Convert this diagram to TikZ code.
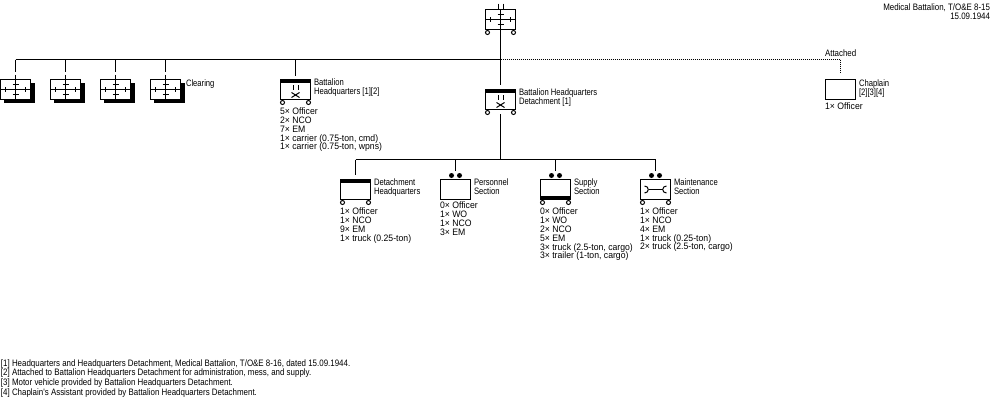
\documentclass[tikz,border=0pt]{standalone}
\usepackage{fontspec}
\setmainfont[FakeStretch=0.93]{Liberation Sans}
\newfontfamily\namefont[FakeStretch=0.82]{Liberation Sans}
\newfontfamily\notefont[FakeStretch=0.85]{Liberation Sans}
\usetikzlibrary{calc}
\tikzset{
  x=0.75pt, y=-0.75pt,
  px/.style={line width=0.75pt},
  unitbox/.style={draw, px, fill=white, minimum width=22.5pt, minimum height=15pt, inner sep=0pt, outer sep=0pt},
  lbl/.style={anchor=north west, inner sep=0pt, outer sep=0pt, align=left,
    font=\fontsize{7pt}{6.7pt}\selectfont, execute at begin node=\rule{0pt}{6pt}},
  namelbl/.style={lbl, font=\namefont\fontsize{7pt}{6.7pt}\selectfont},
  notelbl/.style={lbl, font=\notefont\fontsize{7pt}{7.25pt}\selectfont},
  conn/.style={px},
  dashconn/.style={px, dash pattern=on 9pt off 2.25pt},
  dotconn/.style={px, dash pattern=on 0.75pt off 0.75pt},
  sym/.style={px},
  wheel/.style={px, fill=white},
}
% two road wheels below a unit box
\newcommand{\wheels}[1]{%
  \draw[wheel] ($(#1.south west)+(2,3)$) circle (2);
  \draw[wheel] ($(#1.south east)+(-2,3)$) circle (2);}
% black band along the top or bottom edge of a unit box
\newcommand{\topband}[1]{\fill (#1.north west) rectangle ($(#1.north east)+(0,3.5)$);}
\newcommand{\lowband}[1]{\fill ($(#1.south west)+(0,-3.5)$) rectangle (#1.south east);}
% battalion size mark: two short bars
\newcommand{\batmark}[2]{%
  \draw[sym] ($(#1)+(-2.5,#2)$) -- ++(0,5);
  \draw[sym] ($(#1)+(2.5,#2)$) -- ++(0,5);}
% section size mark: two dots
\newcommand{\secmark}[1]{%
  \fill ($(#1.north)+(-4,-4)$) circle (2.5);
  \fill ($(#1.north)+(4,-4)$) circle (2.5);}
% medical crosses on a white field
\newcommand{\medcross}[1]{%
  \draw[sym] ($(#1)+(-15,0)$) -- ($(#1)+(15,0)$);
  \draw[sym] ($(#1)+(0,-10)$) -- ($(#1)+(0,10)$);
  \draw[sym] ($(#1)+(-10,-2.5)$) -- ++(0,5);
  \draw[sym] ($(#1)+(10,-2.5)$) -- ++(0,5);
  \draw[sym] ($(#1)+(-3,-5)$) -- ++(6,0);
  \draw[sym] ($(#1)+(-3,5)$) -- ++(6,0);}
% small crossed emblem below a box centre
\newcommand{\crossemblem}[1]{%
  \draw[sym] ($(#1)+(-4,3)$) .. controls ($(#1)+(-1,4)$) and ($(#1)+(1,7)$) .. ($(#1)+(4,8)$);
  \draw[sym] ($(#1)+(-4,8)$) .. controls ($(#1)+(-1,7)$) and ($(#1)+(1,4)$) .. ($(#1)+(4,3)$);}
\begin{document}
\begin{tikzpicture}
\useasboundingbox (0,0) rectangle (1000,400);

% command element
\node[unitbox] (bn) at (500.5,19.5) {};
\medcross{bn}
\wheels{bn}
\batmark{bn.north}{-6}

% clearing companies, shadowed
\foreach \nm/\cx in {clra/15.5, clrb/65.5, clrc/115.5, clrd/165.5}{
  \fill (\cx-11.5,83) rectangle (\cx+19,103);
  \node[unitbox] (\nm) at (\cx,89.5) {};
  \medcross{\nm}
}

% headquarters elements
\node[unitbox] (hq) at (295.5,89.5) {};
\topband{hq}\wheels{hq}
\batmark{hq.center}{-4.5}
\crossemblem{hq.center}

\node[unitbox] (det) at (500.5,99.5) {};
\topband{det}\wheels{det}
\batmark{det.center}{-4.5}
\crossemblem{det.center}

\node[unitbox] (chap) at (840.5,89.5) {};

% sections
\node[unitbox] (dhq) at (355.5,189.5) {};
\topband{dhq}\wheels{dhq}
\node[unitbox] (pers) at (455.5,189.5) {};
\secmark{pers}
\node[unitbox] (sup) at (555.5,189.5) {};
\lowband{sup}\wheels{sup}\secmark{sup}
\node[unitbox] (mnt) at (655.5,189.5) {};
\wheels{mnt}\secmark{mnt}
\draw[sym] ($(mnt.center)+(-7,0)$) -- ($(mnt.center)+(7,0)$);
\draw[sym] ($(mnt.center)+(-11,-3.5)$) .. controls ($(mnt.center)+(-6,-3.5)$) and ($(mnt.center)+(-6,3.5)$) .. ($(mnt.center)+(-11,3.5)$);
\draw[sym] ($(mnt.center)+(11,-3.5)$) .. controls ($(mnt.center)+(6,-3.5)$) and ($(mnt.center)+(6,3.5)$) .. ($(mnt.center)+(11,3.5)$);

% connectors
\coordinate (busL) at (15.5,59.5);
\coordinate (busJ) at (500.5,59.5);
\coordinate (busR) at (840.5,59.5);
\coordinate (lowJ) at (500.5,159.5);
\draw[conn] (bn.south) -- (busJ);
\draw[conn] (busL) -- (busJ);
\draw[dotconn] (busJ) -- (busR);
\draw[dotconn, shorten >=4.5pt] (busR) -- (chap.north);
\foreach \nm in {clra, clrb, clrc, clrd}
  \draw[dashconn] (\nm.north |- busJ) -- (\nm.north);
\draw[conn, shorten >=3pt] (hq.north |- busJ) -- (hq.north);
\draw[conn, shorten >=3.5pt] (busJ) -- (det.north);
\draw[conn, shorten <=3.5pt] (det.south) -- (lowJ);
\draw[conn] (dhq.north |- lowJ) -- (mnt.north |- lowJ);
\draw[conn, shorten >=3.75pt] (dhq.north |- lowJ) -- (dhq.north);
\draw[conn, shorten >=6.75pt] (pers.north |- lowJ) -- (pers.north);
\draw[conn, shorten >=6.75pt] (sup.north |- lowJ) -- (sup.north);
\draw[conn, shorten >=6.75pt] (mnt.north |- lowJ) -- (mnt.north);

% labels
\node[notelbl, anchor=north east, align=right] (ttl) at (990,3.5) {Medical Battalion, T/O\&E 8-15\\15.09.1944};
\node[notelbl] (att) at (825,48.5) {Attached};
\node[namelbl] (clrl) at (186,78) {Clearing};
\node[namelbl] (hql) at (314,79) {Battalion\\Headquarters [1][2]};
\node[namelbl] (detl) at (519,89) {Battalion Headquarters\\Detachment [1]};
\node[namelbl] (chl) at (859,79.5) {Chaplain\\{}[2][3][4]};
\node[namelbl] (dhql) at (374,179) {Detachment\\Headquarters};
\node[namelbl] (persl) at (474,179) {Personnel\\Section};
\node[namelbl] (supl) at (574,179) {Supply\\Section};
\node[namelbl] (mntl) at (674,179) {Maintenance\\Section};

\node[lbl] (hqp) at (280,107.5) {5× Officer\\2× NCO\\7× EM\\1× carrier (0.75-ton, cmd)\\1× carrier (0.75-ton, wpns)};
\node[lbl] (chp) at (825,101.5) {1× Officer};
\node[lbl] (dhqp) at (340,207.5) {1× Officer\\1× NCO\\9× EM\\1× truck (0.25-ton)};
\node[lbl] (persp) at (440,201.5) {0× Officer\\1× WO\\1× NCO\\3× EM};
\node[lbl] (supp) at (540,207.5) {0× Officer\\1× WO\\2× NCO\\5× EM\\3× truck (2.5-ton, cargo)\\3× trailer (1-ton, cargo)};
\node[lbl] (mntp) at (640,207.5) {1× Officer\\1× NCO\\4× EM\\1× truck (0.25-ton)\\2× truck (2.5-ton, cargo)};

\node[notelbl] (notes) at (1,359.5) {{}[1] Headquarters and Headquarters Detachment, Medical Battalion, T/O\&E 8-16, dated 15.09.1944.\\{}[2] Attached to Battalion Headquarters Detachment for administration, mess, and supply.\\{}[3] Motor vehicle provided by Battalion Headquarters Detachment.\\{}[4] Chaplain's Assistant provided by Battalion Headquarters Detachment.};
\end{tikzpicture}
\end{document}
